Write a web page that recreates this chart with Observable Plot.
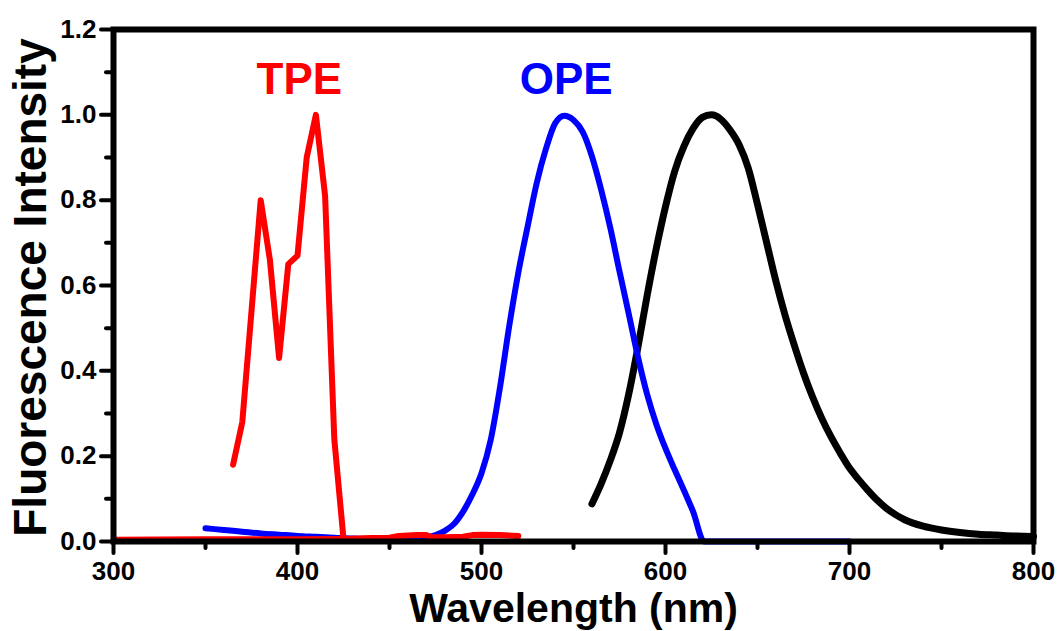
<!DOCTYPE html>
<html><head><meta charset="utf-8">
<script src="https://cdn.jsdelivr.net/npm/d3@7"></script>
<script src="https://cdn.jsdelivr.net/npm/@observablehq/plot@0.6"></script>
<style>
html,body{margin:0;padding:0;background:#fff;overflow:hidden}
#chart svg{font-family:'Liberation Sans',Arial,Helvetica,sans-serif;font-weight:bold;color:#000;background:#fff}
</style>
</head><body><div id="chart"></div>
<script>
// TPE excitation-like spectrum (red, jagged)
const tpeX = [365, 370, 380, 385, 390, 395, 400, 405, 410, 415, 420, 425];
const tpeY = [0.18, 0.28, 0.80, 0.66, 0.43, 0.65, 0.67, 0.90, 1.00, 0.81, 0.24, 0.006];
// red baseline trace
const redBaseX = [300, 350, 400, 425, 440, 450, 455, 465, 470, 473, 480, 490, 495, 500, 510, 520];
const redBaseY = [0.004, 0.005, 0.005, 0.006, 0.008, 0.009, 0.013, 0.015, 0.015, 0.010, 0.010, 0.011, 0.015, 0.016, 0.015, 0.013];
// OPE spectrum (blue)
const opeX = [350, 360, 370, 380, 390, 400, 410, 420, 430, 440, 450, 460, 470, 475, 480, 485, 490, 495, 500, 505, 510, 515, 520, 525, 530, 535, 540, 545, 550, 555, 560, 565, 570, 575, 580, 585, 590, 595, 600, 605, 610, 615, 621, 650, 700];
const opeY = [0.031, 0.027, 0.023, 0.019, 0.016, 0.013, 0.011, 0.009, 0.007, 0.006, 0.006, 0.007, 0.010, 0.015, 0.025, 0.041, 0.070, 0.110, 0.160, 0.238, 0.360, 0.503, 0.630, 0.737, 0.840, 0.920, 0.980, 0.998, 0.988, 0.960, 0.903, 0.825, 0.735, 0.633, 0.534, 0.433, 0.345, 0.275, 0.218, 0.168, 0.120, 0.070, 0.0, 0.0, 0.0];
// third emission spectrum (black)
const blkX = [560, 565, 570, 575, 580, 585, 590, 595, 600, 605, 610, 615, 620, 625, 630, 635, 640, 645, 650, 655, 660, 665, 670, 675, 680, 685, 690, 695, 700, 705, 710, 715, 720, 725, 730, 740, 750, 760, 770, 780, 790, 800];
const blkY = [0.088, 0.135, 0.190, 0.255, 0.345, 0.455, 0.576, 0.687, 0.785, 0.868, 0.926, 0.968, 0.994, 1.000, 0.990, 0.965, 0.930, 0.875, 0.790, 0.700, 0.610, 0.530, 0.460, 0.395, 0.338, 0.288, 0.245, 0.207, 0.172, 0.145, 0.120, 0.097, 0.078, 0.063, 0.051, 0.036, 0.027, 0.021, 0.017, 0.015, 0.013, 0.012];

const labelText = ["TPE", "OPE"];
const labelX = [401, 546];
const labelY = [1.049, 1.049];
const labelColor = ["#ff0000", "#0000ff"];

const xMajor = [300, 400, 500, 600, 700, 800];
const xMinor = [350, 450, 550, 650, 750];
const yMajor = [0, 0.2, 0.4, 0.6, 0.8, 1.0, 1.2];
const yMinor = [0.1, 0.3, 0.5, 0.7, 0.9, 1.1];

const xTitle = "Wavelength (nm)";
const yTitle = "Fluorescence Intensity";

const zip = (xs, ys) => xs.map((x, i) => ({x, y: ys[i]}));
const tpe = zip(tpeX, tpeY);
const redBase = zip(redBaseX, redBaseY);
const ope = zip(opeX, opeY);
const blk = zip(blkX, blkY);
const labels = labelText.map((t, i) => ({t, x: labelX[i], y: labelY[i], c: labelColor[i]}));

const tickStyle = {stroke: "#000", strokeWidth: 4, strokeLinecap: "round"};

const chart = Plot.plot({
  width: 1060,
  height: 631,
  marginLeft: 113,
  marginRight: 27,
  marginTop: 29,
  marginBottom: 90,
  x: {domain: [300, 800]},
  y: {domain: [0, 1.2]},
  marks: [
    Plot.line(blk, {x: "x", y: "y", stroke: "#000", strokeWidth: 7, curve: "monotone-x", strokeLinecap: "round"}),
    Plot.line(ope, {x: "x", y: "y", stroke: "#0000ff", strokeWidth: 6, curve: "monotone-x", strokeLinecap: "round"}),
    Plot.line(redBase, {x: "x", y: "y", stroke: "#ff0000", strokeWidth: 6, strokeLinecap: "round"}),
    Plot.line(tpe, {x: "x", y: "y", stroke: "#ff0000", strokeWidth: 6, strokeLinejoin: "round", strokeLinecap: "round"}),
    Plot.text(labels, {x: "x", y: "y", text: "t", fill: "c", fontSize: 44, lineAnchor: "bottom", textAnchor: "middle"}),
    Plot.frame({stroke: "#000", strokeWidth: 6}),
    // outward tick marks (major and minor)
    Plot.ruleX(xMajor, {x: d => d, y1: 0, y2: 0, insetBottom: -12, ...tickStyle}),
    Plot.ruleX(xMinor, {x: d => d, y1: 0, y2: 0, insetBottom: -7, ...tickStyle}),
    Plot.ruleY(yMajor, {y: d => d, x1: 300, x2: 300, insetLeft: -12, ...tickStyle}),
    Plot.ruleY(yMinor, {y: d => d, x1: 300, x2: 300, insetLeft: -7, ...tickStyle}),
    // tick labels
    Plot.axisX({ticks: xMajor, tickSize: 0, tickPadding: 20, fontSize: 26, tickFormat: d3.format("d"), label: null}),
    Plot.axisY({ticks: yMajor, tickSize: 0, tickPadding: 17, fontSize: 26, tickFormat: d3.format(".1f"), label: null}),
    // axis titles
    Plot.text([yTitle], {text: d => d, frameAnchor: "left", rotate: -90, dx: -68, dy: 2, textAnchor: "middle", lineAnchor: "bottom", fontSize: 46, fill: "#000"}),
    Plot.text([xTitle], {text: d => d, frameAnchor: "bottom", dy: 80, textAnchor: "middle", lineAnchor: "bottom", fontSize: 41, fill: "#000"})
  ]
});
document.getElementById("chart").appendChild(chart);
</script>
</body></html>
